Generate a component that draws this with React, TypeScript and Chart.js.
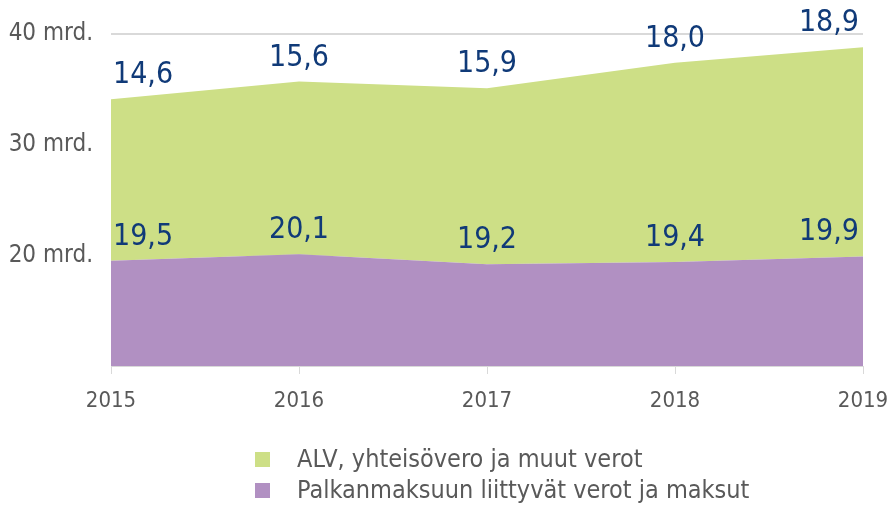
import React, { useEffect, useRef } from "react";
import { Chart, registerables } from "chart.js";

Chart.register(...registerables);

const years = ["2015", "2016", "2017", "2018", "2019"];
const palkka = [19.5, 20.1, 19.2, 19.4, 19.9];
const alv = [14.6, 15.6, 15.9, 18.0, 18.9];
const yTicks = [20, 30, 40];
const legendLabels = ["ALV, yhteisövero ja muut verot", "Palkanmaksuun liittyvät verot ja maksut"];

const GREEN = "#cddf86";
const PURPLE = "#b190c2";
const LABEL = "#103a78";
const GREY_TEXT = "#595959";
const FONT = "'Liberation Sans Narrow', 'DejaVu Sans Condensed', Roboto, sans-serif";

const fmt = (v: number) => v.toFixed(1).replace(".", ",");

const labelPlugin = {
  id: "valueLabels",
  afterDatasetsDraw(chart: any) {
    const { ctx, chartArea } = chart;
    ctx.save();
    ctx.font = `30px ${FONT}`;
    ctx.fillStyle = LABEL;
    ctx.textBaseline = "alphabetic";
    ctx.textAlign = "center";
    chart.data.datasets.forEach((ds: any, di: number) => {
      const meta = chart.getDatasetMeta(di);
      meta.data.forEach((pt: any, i: number) => {
        const txt = fmt(ds.data[i]);
        const w = ctx.measureText(txt).width;
        let x = pt.x;
        x = Math.max(x, chartArea.left + w / 2 + 2);
        x = Math.min(x, chartArea.right - w / 2 - 4);
        ctx.fillText(txt, x, pt.y - 16);
      });
    });
    // legend
    ctx.font = `25px ${FONT}`;
    ctx.textAlign = "left";
    ctx.textBaseline = "middle";
    const colors = [GREEN, PURPLE];
    legendLabels.forEach((l, i) => {
      const y = 460 + i * 31;
      ctx.fillStyle = colors[i];
      ctx.fillRect(255, y - 8, 15, 15);
      ctx.fillStyle = GREY_TEXT;
      ctx.fillText(l, 297, y);
    });
    ctx.restore();
  },
};

export default function App() {
  const ref = useRef<HTMLCanvasElement>(null);
  useEffect(() => {
    document.body.style.margin = "0";
    const chart = new Chart(ref.current!, {
      type: "line",
      data: {
        labels: years,
        datasets: [
          {
            label: legendLabels[1],
            data: palkka,
            backgroundColor: PURPLE,
            borderWidth: 0,
            pointRadius: 0,
            fill: "start",
            tension: 0,
          },
          {
            label: legendLabels[0],
            data: alv,
            backgroundColor: GREEN,
            borderWidth: 0,
            pointRadius: 0,
            fill: "-1",
            tension: 0,
          },
        ],
      },
      options: {
        responsive: false,
        animation: false,
        layout: { padding: { top: 34, right: 31, left: 0, bottom: 0 } },
        plugins: { legend: { display: false }, tooltip: { enabled: false } },
        scales: {
          x: {
            offset: false,
            grid: { drawOnChartArea: false, drawTicks: true, tickLength: 8, color: "#d9d9d9" },
            border: { color: "#d9d9d9", width: 1 },
            ticks: { color: GREY_TEXT, font: { size: 22, family: FONT }, padding: 14, maxRotation: 0 },
            afterFit: (s: any) => {
              s.height = 143;
              s.paddingLeft = 0;
              s.paddingRight = 0;
            },
          },
          y: {
            stacked: true,
            min: 10,
            max: 40,
            grid: { color: "#d9d9d9", drawTicks: false, lineWidth: 2 },
            border: { display: false },
            afterBuildTicks: (s: any) => {
              s.ticks = [10, ...yTicks].map((v) => ({ value: v }));
            },
            ticks: {
              color: GREY_TEXT,
              font: { size: 24, family: FONT },
              padding: 18,
              callback: (v: any) => (yTicks.includes(v) ? `${v} mrd.` : ""),
            },
            afterFit: (s: any) => {
              s.width = 111;
              s.paddingTop = 0;
              s.paddingBottom = 0;
            },
          },
        },
      },
      plugins: [labelPlugin],
    });
    return () => chart.destroy();
  }, []);
  return <canvas ref={ref} width={894} height={509} style={{ display: "block" }} />;
}
